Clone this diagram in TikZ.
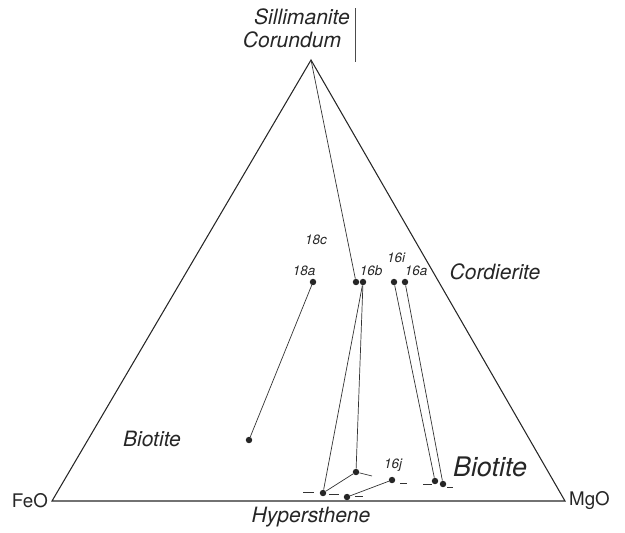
\documentclass[tikz,border=0pt]{standalone}
\usepackage{fontspec}
\setmainfont{TeX Gyre Heros}
\tikzset{
  phase/.style={font=\fontsize{18}{20}\selectfont\itshape, text=black!85},
  oxide/.style={font=\fontsize{16}{18}\selectfont, text=black!85},
  sample/.style={font=\fontsize{11.5}{12}\selectfont\itshape, text=black!85},
  tie/.style={black!80, line width=0.6pt},
  dot/.style={circle, fill=black!85, inner sep=0pt, minimum size=5.5pt}
}
\begin{document}
\begin{tikzpicture}[x=0.3mm, y=-0.3mm]
  \useasboundingbox (0,0) rectangle (625,532);

  % Triangle corners
  \coordinate (apex) at (311,60);
  \coordinate (feo) at (52,501);
  \coordinate (mgo) at (565,501);
  \draw[black!85, line width=0.9pt] (feo) -- (apex) -- (mgo) -- cycle;

  % Corner labels
  \node[phase] (sill) at (302,17) {Sillimanite};
  \node[phase] (coru) at (292,40) {Corundum};
  \draw[black!70, line width=0.6pt] (355,8) -- (355,62);
  \node[oxide, anchor=east] (feolab) at (feo) {FeO};
  \node[oxide, anchor=west] (mgolab) at (mgo) {MgO};
  \node[phase] (hyp) at (311,517) {Hypersthene};

  % Field labels
  \node[phase] (cord) at (495,272) {Cordierite};
  \node[phase] (bioL) at (152,439) {Biotite};
  \node[phase, font=\fontsize{23}{25}\selectfont\itshape] (bioR) at (490,467) {Biotite};

  % Analysed minerals
  \node[dot] (d18a) at (313,282) {};
  \node[dot] (d16bL) at (356,282) {};
  \node[dot] (d16bR) at (363,282) {};
  \node[dot] (d16i) at (394,282) {};
  \node[dot] (d16a) at (405,282) {};
  \node[dot] (bio) at (249,440) {};
  \node[dot] (h1) at (323,493) {};
  \node[dot] (h2) at (347,497) {};
  \node[dot] (h3) at (356,472) {};
  \node[dot] (h4) at (392,480) {};
  \node[dot] (h5) at (435,481) {};
  \node[dot] (h6) at (443,484) {};

  % Sample numbers
  \node[sample] (l18c) at (316,240) {18c};
  \node[sample] (l18a) at (304,271) {18a};
  \node[sample] (l16b) at (371,271) {16b};
  \node[sample] (l16i) at (396,258) {16i};
  \node[sample] (l16a) at (416,271) {16a};
  \node[sample] (l16j) at (393,465) {16j};

  % Tie lines
  \draw[tie] (apex) -- (d16bL);
  \draw[tie] (d18a) -- (bio);
  \draw[tie] (d16bR) -- (h1);
  \draw[tie] (d16bR) -- (h3);
  \draw[tie] (h1) -- (h3);
  \draw[tie] (h2) -- (h4);
  \draw[tie] (d16i) -- (h5);
  \draw[tie] (d16a) -- (h6);

  % Short dashes near the base
  \draw[tie] (303,492) -- (314,492);
  \draw[tie] (329,494) -- (339,494);
  \draw[tie] (355,496) -- (363,496);
  \draw[tie] (h3) -- (372,476);
  \draw[tie] (400,483) -- (407,483);
  \draw[tie] (423,484) -- (432,484);
  \draw[tie] (447,487) -- (453,487);
\end{tikzpicture}
\end{document}
